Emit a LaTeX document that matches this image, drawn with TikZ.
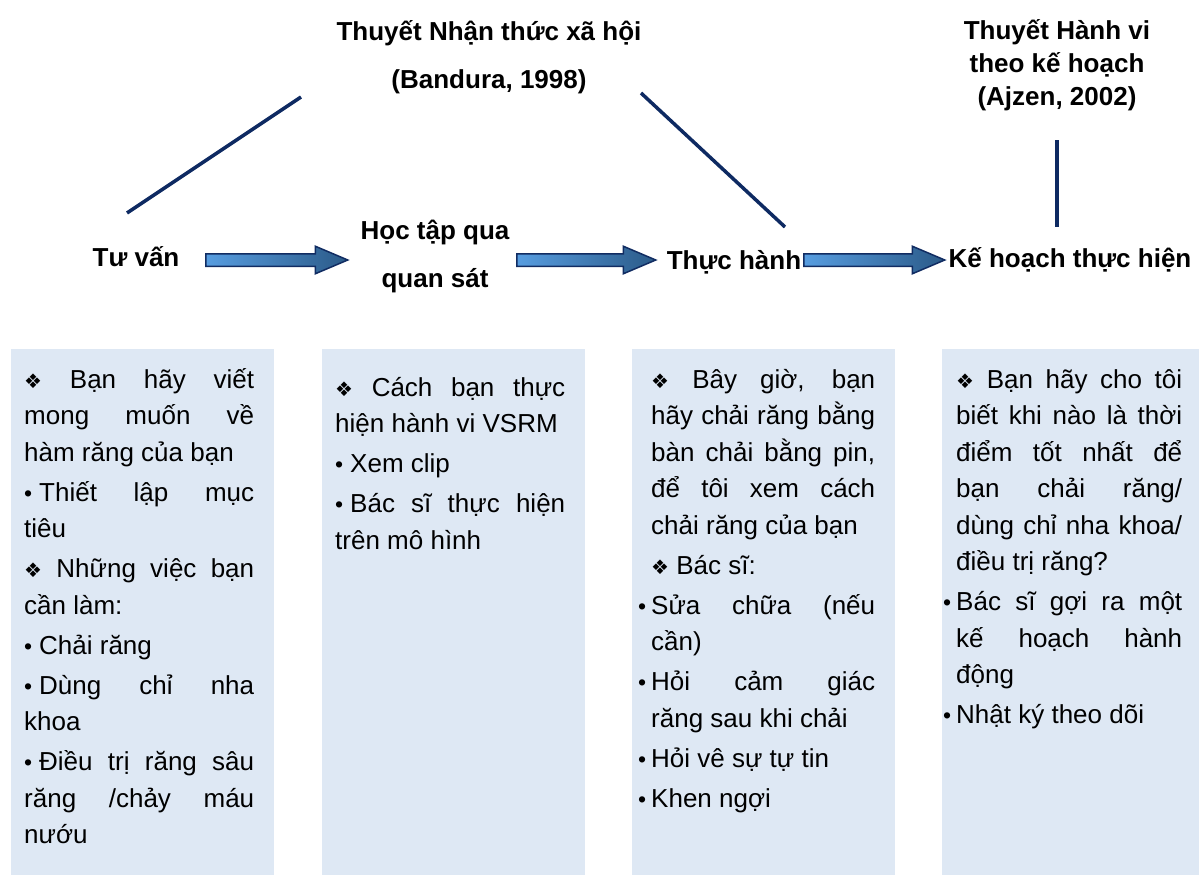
\documentclass[tikz,border=0pt]{standalone}
\usepackage{fontspec}
\setmainfont{Liberation Sans}
\newfontfamily\symfont{DejaVu Sans}
\usetikzlibrary{shapes.arrows}

\definecolor{navy}{HTML}{0E2A62}
\definecolor{boxfill}{HTML}{DEE8F4}
\definecolor{arrowA}{HTML}{579DE0}
\definecolor{arrowB}{HTML}{2B5A88}
\definecolor{arrowline}{HTML}{112C62}

% list markers
\newcommand\dmd{{\symfont\fontsize{20}{20}\selectfont ❖}}
\newcommand\bul{\makebox[15pt][l]{\fontsize{23}{23}\selectfont •}}
\newcommand\hbul{\makebox[0pt][r]{\fontsize{23}{23}\selectfont •\hspace{5pt}}}
% justified column of panel text
\newcommand\paneltxt[2]{\parbox[t]{#1}{\setlength\parskip{3.5pt}\hyphenpenalty=10000 \exhyphenpenalty=10000 \tolerance=10000 \hbadness=10000 #2}}

\tikzset{
  stagetext/.style={font=\bfseries\fontsize{26}{33}\selectfont, align=center, inner sep=0pt},
  panel/.style={fill=boxfill, draw=none, anchor=north west, minimum height=526pt, inner sep=0pt},
  paneltext/.style={anchor=base west, inner sep=0pt, font=\fontsize{26}{36.5}\selectfont},
  link/.style={draw=navy, line width=3.5pt},
  blockarrow/.style={single arrow, draw=arrowline, line width=1.5pt,
    left color=arrowA, right color=arrowB, minimum width=26pt,
    single arrow head extend=7.5pt, single arrow tip angle=46,
    inner sep=5.5pt, anchor=tail, minimum height=#1},
}

\begin{document}
\begin{tikzpicture}[x=1pt,y=-1pt]
\useasboundingbox (0,0) rectangle (1199,875);

% theory headings
\node[stagetext] (snt) at (489,57) {Thuyết Nhận thức xã hội\\[15pt](Bandura, 1998)};
\node[stagetext] (tpb) at (1057,65) {Thuyết Hành vi\\theo kế hoạch\\(Ajzen, 2002)};

% stages
\node[stagetext] (tuvan) at (136,257) {Tư vấn};
\node[stagetext] (hoctap) at (435,256) {Học tập qua\\[15pt]quan sát};
\node[stagetext] (thuchanh) at (734,262) {Thực hành};
\node[stagetext] (kehoach) at (1070,260) {Kế hoạch thực hiện};

% block arrows between stages
\node[blockarrow=142pt] (ar1) at (205,260) {};
\node[blockarrow=139pt] (ar2) at (516,260) {};
\node[blockarrow=141pt] (ar3) at (803,260) {};

% theory links
\coordinate (l1a) at (127,213); \coordinate (l1b) at (301,97);
\coordinate (l2a) at (641,93);  \coordinate (l2b) at (785,227);
\coordinate (l3a) at (1057,140); \coordinate (l3b) at (1057,227);
\draw[link] (l1a) -- (l1b);
\draw[link] (l2a) -- (l2b);
\draw[link] (l3a) -- (l3b);

% panels
\node[panel, minimum width=263pt] (p1) at (11,349) {};
\node[panel, minimum width=263pt] (p2) at (322,349) {};
\node[panel, minimum width=263pt] (p3) at (632,349) {};
\node[panel, minimum width=257pt] (p4) at (942,349) {};

\node[paneltext] (tx1) at (24,388) {\paneltxt{230pt}{%
\dmd\ Bạn hãy viết\linebreak mong muốn về\linebreak hàm răng của bạn\par
\bul Thiết lập mục\linebreak tiêu\par
\dmd\ Những việc bạn\linebreak cần làm:\par
\bul Chải răng\par
\bul Dùng chỉ nha\linebreak khoa\par
\bul Điều trị răng sâu\linebreak răng /chảy máu\linebreak nướu}};

\node[paneltext] (tx2) at (335,396) {\paneltxt{230pt}{%
\dmd\ Cách bạn thực\linebreak hiện hành vi VSRM\par
\bul Xem clip\par
\bul Bác sĩ thực hiện\linebreak trên mô hình}};

\node[paneltext] (tx3) at (651,388) {\paneltxt{224pt}{%
\dmd\ Bây giờ, bạn\linebreak hãy chải răng bằng\linebreak bàn chải bằng pin,\linebreak để tôi xem cách\linebreak chải răng của bạn\par
\dmd\ Bác sĩ:\par
\hbul Sửa chữa (nếu\linebreak cần)\par
\hbul Hỏi cảm giác\linebreak răng sau khi chải\par
\hbul Hỏi vê sự tự tin\par
\hbul Khen ngợi}};

\node[paneltext] (tx4) at (956,388) {\paneltxt{226pt}{%
\dmd\ Bạn hãy cho tôi\linebreak biết khi nào là thời\linebreak điểm tốt nhất để\linebreak bạn chải răng/\linebreak dùng chỉ nha khoa/\linebreak điều trị răng?\par
\hbul Bác sĩ gợi ra một\linebreak kế hoạch hành\linebreak động\par
\hbul Nhật ký theo dõi}};
\end{tikzpicture}
\end{document}
